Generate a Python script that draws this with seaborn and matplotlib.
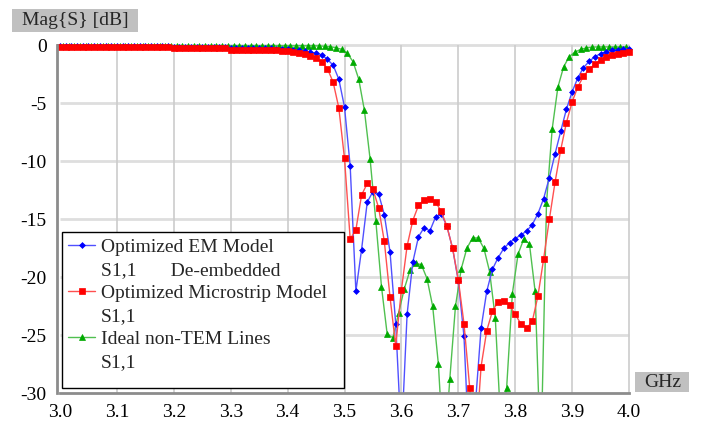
import matplotlib
matplotlib.use("Agg")
import matplotlib.pyplot as plt
from matplotlib.lines import Line2D
from matplotlib.patches import Rectangle
import pandas as pd
import seaborn as sns

# sweep points of the two optimized models (GHz)
FREQ_GHZ = [
    3.00, 3.01, 3.02, 3.03, 3.04, 3.05, 3.06, 3.07, 3.08, 3.09,
    3.10, 3.11, 3.12, 3.13, 3.14, 3.15, 3.16, 3.17, 3.18, 3.19,
    3.20, 3.21, 3.22, 3.23, 3.24, 3.25, 3.26, 3.27, 3.28, 3.29,
    3.30, 3.31, 3.32, 3.33, 3.34, 3.35, 3.36, 3.37, 3.38, 3.39,
    3.40, 3.41, 3.42, 3.43, 3.44, 3.45, 3.46, 3.47, 3.48, 3.49,
    3.50, 3.51, 3.52, 3.53, 3.54, 3.55, 3.56, 3.57, 3.58, 3.59,
    3.60, 3.61, 3.62, 3.63, 3.64, 3.65, 3.66, 3.67, 3.68, 3.69,
    3.70, 3.71, 3.72, 3.73, 3.74, 3.75, 3.76, 3.77, 3.78, 3.79,
    3.80, 3.81, 3.82, 3.83, 3.84, 3.85, 3.86, 3.87, 3.88, 3.89,
    3.90, 3.91, 3.92, 3.93, 3.94, 3.95, 3.96, 3.97, 3.98, 3.99,
    4.00,
]

# Optimized EM Model, S1,1 de-embedded (dB)
EM_DB = [
    -0.05, -0.05, -0.05, -0.05, -0.05, -0.05, -0.05, -0.05, -0.05, -0.05,
    -0.05, -0.05, -0.05, -0.05, -0.05, -0.05, -0.05, -0.05, -0.05, -0.05,
    -0.10, -0.10, -0.10, -0.10, -0.10, -0.10, -0.10, -0.10, -0.10, -0.10,
    -0.20, -0.20, -0.20, -0.20, -0.20, -0.20, -0.22, -0.25, -0.28, -0.30,
    -0.33, -0.37, -0.42, -0.50, -0.58, -0.68, -0.80, -1.20, -1.70, -2.90,
    -5.30, -10.4, -21.2, -17.6, -13.5, -12.6, -12.8, -14.6, -17.8, -24.0,
    -34.0, -23.2, -18.7, -16.5, -15.7, -16.0, -14.8, -14.5, -15.6, -17.5,
    -20.3, -25.1, -36.0, -31.0, -24.4, -21.2, -19.3, -18.3, -17.5, -17.0,
    -16.65, -16.35, -16.0, -15.45, -14.5, -13.2, -11.4, -9.35, -7.4, -5.5,
    -4.0, -2.8, -1.9, -1.38, -0.95, -0.72, -0.52, -0.43, -0.37, -0.32,
    -0.29,
]

# Optimized Microstrip Model, S1,1 (dB)
MSTRIP_DB = [
    -0.10, -0.10, -0.10, -0.10, -0.10, -0.10, -0.10, -0.10, -0.10, -0.10,
    -0.10, -0.10, -0.10, -0.10, -0.10, -0.10, -0.10, -0.10, -0.10, -0.10,
    -0.20, -0.20, -0.20, -0.20, -0.20, -0.20, -0.20, -0.20, -0.20, -0.20,
    -0.35, -0.35, -0.35, -0.35, -0.35, -0.35, -0.35, -0.38, -0.42, -0.46,
    -0.50, -0.56, -0.64, -0.75, -0.90, -1.10, -1.44, -2.00, -3.16, -5.37,
    -9.74, -16.7, -15.9, -12.9, -11.9, -12.4, -14.0, -16.9, -21.7, -25.9,
    -21.1, -17.3, -15.1, -13.8, -13.3, -13.2, -13.5, -14.3, -15.6, -17.5,
    -20.2, -24.0, -29.5, -35.0, -27.7, -24.6, -22.9, -22.1, -22.0, -22.4,
    -23.2, -24.0, -24.4, -23.8, -21.6, -18.4, -15.0, -11.8, -9.0, -6.65,
    -4.87, -3.58, -2.64, -2.06, -1.60, -1.29, -1.03, -0.83, -0.72, -0.62,
    -0.54,
]

# sweep points of the ideal line model (GHz)
FREQ_IDEAL_GHZ = [
    3.005, 3.015, 3.025, 3.035, 3.045, 3.055, 3.065, 3.075, 3.085, 3.095,
    3.105, 3.115, 3.125, 3.135, 3.145, 3.155, 3.165, 3.175, 3.185, 3.195,
    3.205, 3.215, 3.225, 3.235, 3.245, 3.255, 3.265, 3.275, 3.285, 3.295,
    3.305, 3.315, 3.325, 3.335, 3.345, 3.355, 3.365, 3.375, 3.385, 3.395,
    3.405, 3.415, 3.425, 3.435, 3.445, 3.455, 3.465, 3.475, 3.485, 3.495,
    3.505, 3.515, 3.525, 3.535, 3.545, 3.555, 3.565, 3.575, 3.585, 3.595,
    3.605, 3.615, 3.625, 3.635, 3.645, 3.655, 3.665, 3.675, 3.685, 3.695,
    3.705, 3.715, 3.725, 3.735, 3.745, 3.755, 3.765, 3.775, 3.785, 3.795,
    3.805, 3.815, 3.825, 3.835, 3.845, 3.855, 3.865, 3.875, 3.885, 3.895,
    3.905, 3.915, 3.925, 3.935, 3.945, 3.955, 3.965, 3.975, 3.985, 3.995,
]

# Ideal non-TEM Lines, S1,1 (dB)
IDEAL_DB = [
    -0.02, -0.02, -0.02, -0.02, -0.02, -0.02, -0.02, -0.02, -0.02, -0.02,
    -0.02, -0.02, -0.02, -0.02, -0.02, -0.02, -0.02, -0.02, -0.02, -0.02,
    -0.02, -0.02, -0.02, -0.02, -0.02, -0.02, -0.02, -0.02, -0.02, -0.02,
    -0.02, -0.02, -0.02, -0.02, -0.02, -0.02, -0.02, -0.02, -0.02, -0.02,
    -0.02, -0.02, -0.02, -0.02, -0.02, -0.03, -0.06, -0.10, -0.19, -0.33,
    -0.67, -1.4, -2.9, -5.6, -9.8, -15.1, -20.8, -24.9, -25.2, -23.1,
    -21.0, -19.4, -18.8, -18.9, -20.1, -22.5, -27.5, -36.0, -28.8, -22.5,
    -19.3, -17.5, -16.6, -16.6, -17.5, -19.5, -23.5, -33.0, -29.5, -21.4,
    -18.0, -16.7, -17.1, -21.2, -36.0, -13.6, -7.2, -3.6, -1.86, -0.95,
    -0.57, -0.34, -0.20, -0.14, -0.12, -0.12, -0.12, -0.12, -0.12, -0.12,
]

X_TICKS = [3.0, 3.1, 3.2, 3.3, 3.4, 3.5, 3.6, 3.7, 3.8, 3.9, 4.0]
X_LABELS = ["3.0", "3.1", "3.2", "3.3", "3.4", "3.5", "3.6", "3.7", "3.8", "3.9", "4.0"]
Y_TICKS = [0, -5, -10, -15, -20, -25, -30]
Y_LABELS = ["0", "-5", "-10", "-15", "-20", "-25", "-30"]

LEGEND_LABELS = [
    "Optimized EM Model",
    "S1,1       De-embedded",
    "Optimized Microstrip Model",
    "S1,1",
    "Ideal non-TEM Lines",
    "S1,1",
]

sns.set_style("white")
plt.rcParams["font.family"] = ["Liberation Serif", "DejaVu Serif"]

W, H = 703, 423
fig = plt.figure(figsize=(W / 100, H / 100), dpi=100)

# axes placed so that 3.0..4.0 GHz -> x 60..629 px and 0..-30 dB -> y 45.5..393.3 px
x0, x1 = 2.994, 4.012
y0, y1 = -30.0, 0.6
ppg = 569.0
ppd = 347.8 / 30
left_px = 60 - (3.0 - x0) * ppg
right_px = 629 + (x1 - 4.0) * ppg
top_px = 45.5 - y1 * ppd
bot_px = 393.3
ax = fig.add_axes([left_px / W, 1 - bot_px / H,
                   (right_px - left_px) / W, (bot_px - top_px) / H])
ax.set_xlim(x0, x1)
ax.set_ylim(y0, y1)

# grid
ax.hlines(Y_TICKS[:-1], 3.0, 4.0, color="#dedede", lw=2.0, zorder=0.5)
ax.vlines(X_TICKS[1:], -30, 0, color="#cccccc", lw=1.2, zorder=0.5)

df_ideal = pd.DataFrame({"freq": FREQ_IDEAL_GHZ, "db": IDEAL_DB})
df_em = pd.DataFrame({"freq": FREQ_GHZ, "db": EM_DB})
df_ms = pd.DataFrame({"freq": FREQ_GHZ, "db": MSTRIP_DB})

styles = {
    "em": dict(color="#5050ff", marker="D", markersize=3.0,
               markerfacecolor="#0000ff", markeredgecolor="#0000ff", markeredgewidth=0.5),
    "ms": dict(color="#ff5050", marker="s", markersize=3.8,
               markerfacecolor="#ff0000", markeredgecolor="#ff0000", markeredgewidth=0.5),
    "ideal": dict(color="#50c050", marker="^", markersize=4.2,
                  markerfacecolor="#00aa00", markeredgecolor="#00aa00", markeredgewidth=0.5),
}

sns.lineplot(data=df_ideal, x="freq", y="db", ax=ax, sort=False, errorbar=None,
             linewidth=1.0, **styles["ideal"])
sns.lineplot(data=df_em, x="freq", y="db", ax=ax, sort=False, errorbar=None,
             linewidth=1.0, **styles["em"])
sns.lineplot(data=df_ms, x="freq", y="db", ax=ax, sort=False, errorbar=None,
             linewidth=1.0, **styles["ms"])

ax.set_xlabel("")
ax.set_ylabel("")
ax.set_xticks(X_TICKS)
ax.set_xticklabels(X_LABELS)
ax.set_yticks(Y_TICKS)
ax.set_yticklabels(Y_LABELS)
ax.tick_params(axis="both", direction="out", length=4, width=1, color="#808080",
               labelsize=14, labelcolor="black")
ax.tick_params(axis="x", pad=4)
ax.tick_params(axis="y", pad=3)

for side in ["top", "right"]:
    ax.spines[side].set_visible(False)
for side in ["left", "bottom"]:
    ax.spines[side].set_color("#8c8c8c")
    ax.spines[side].set_linewidth(2)
ax.spines["left"].set_bounds(-30, 0)
ax.spines["bottom"].set_bounds(3.0, 4.0)

# legend: handle only on the first line of each entry
blank = Line2D([], [], color="none")
handles = [
    Line2D([], [], linewidth=1.0, **styles["em"]), blank,
    Line2D([], [], linewidth=1.0, **styles["ms"]), blank,
    Line2D([], [], linewidth=1.0, **styles["ideal"]), blank,
]
ax.add_patch(Rectangle((62 / W, 1 - 388 / H), (344 - 62) / W, (388 - 232) / H,
                       transform=fig.transFigure, facecolor="white", edgecolor="black",
                       linewidth=1.0, zorder=4, clip_on=False))
leg = ax.legend(handles, LEGEND_LABELS, loc="upper left",
                bbox_to_anchor=(68 / W, 1 - 238 / H), bbox_transform=fig.transFigure,
                frameon=False, borderpad=0, borderaxespad=0, handlelength=1.4,
                handletextpad=0.3, labelspacing=0.28, fontsize=14)
leg.set_zorder(5)

# boxed axis captions
fig.add_artist(Rectangle((12 / W, 1 - 32 / H), 126 / W, 23 / H, transform=fig.transFigure,
                         facecolor="#c0c0c0", edgecolor="none"))
fig.text(75 / W, 1 - 20.5 / H, "Mag{S} [dB]", ha="center", va="center", fontsize=14)
fig.add_artist(Rectangle((635 / W, 1 - 392 / H), 54 / W, 20 / H, transform=fig.transFigure,
                         facecolor="#c0c0c0", edgecolor="none"))
fig.text(663 / W, 1 - 382 / H, "GHz", ha="center", va="center", fontsize=14)

fig.savefig("out.png", dpi=100)
